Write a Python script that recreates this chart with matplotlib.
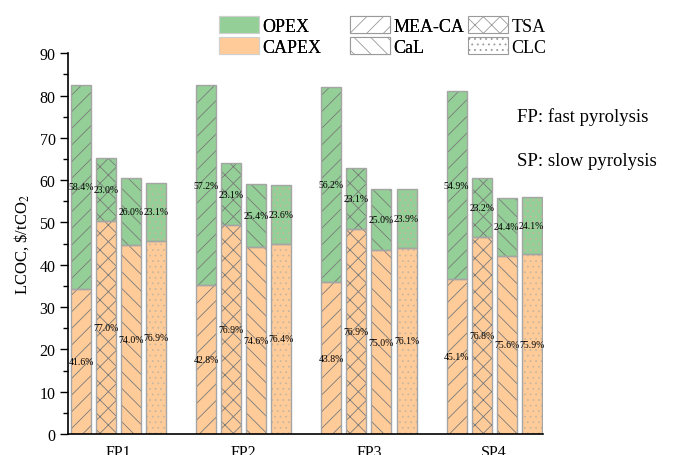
import matplotlib.pyplot as plt
import numpy as np
from matplotlib.patches import Patch
from matplotlib.ticker import MultipleLocator

plt.rcParams['font.family'] = ['Liberation Serif', 'DejaVu Serif']
plt.rcParams['mathtext.fontset'] = 'stix'
plt.rcParams['hatch.linewidth'] = 0.6

# LCOC totals ($/tCO2) and CAPEX share (%) for each case / technology
groups = ['FP1', 'FP2', 'FP3', 'SP4']
techs = ['MEA-CA', 'TSA', 'CaL', 'CLC']
total = {
    'MEA-CA': [82.6, 82.4, 82.0, 81.0],
    'TSA':    [65.3, 64.1, 62.9, 60.6],
    'CaL':    [60.5, 59.2, 58.0, 55.8],
    'CLC':    [59.4, 58.8, 57.9, 56.0],
}
capex_pct = {
    'MEA-CA': [41.6, 42.8, 43.8, 45.1],
    'TSA':    [77.0, 76.9, 76.9, 76.8],
    'CaL':    [74.0, 74.6, 75.0, 75.6],
    'CLC':    [76.9, 76.4, 76.1, 75.9],
}
hatches = {'MEA-CA': '//', 'TSA': 'xx', 'CaL': '\\\\', 'CLC': '...'}
hatch_col = {'MEA-CA': '#7A7A7A', 'TSA': '#7A7A7A', 'CaL': '#7A7A7A', 'CLC': '#C8B8A0'}

c_opex = '#93CF96'
c_capex = '#FFCC99'
edge = '#A5A5A5'

fig = plt.figure(figsize=(6.74, 4.56), dpi=100)
ax = fig.add_axes([0.1009, 0.046, 0.7047, 0.835])

x = np.arange(len(groups))
w = 0.16
step = 0.2
for i, t in enumerate(techs):
    tot = np.array(total[t])
    cp = np.array(capex_pct[t])
    capex = tot * cp / 100
    opex = tot - capex
    pos = x + (i - 1.5) * step
    # filled + hatched parts, then a light outline on top
    b1 = ax.bar(pos, capex, w, color=c_capex, edgecolor=hatch_col[t], hatch=hatches[t], lw=0)
    b2 = ax.bar(pos, opex, w, bottom=capex, color=c_opex, edgecolor=hatch_col[t], hatch=hatches[t], lw=0)
    ax.bar(pos, capex, w, fill=False, edgecolor=edge, lw=1)
    ax.bar(pos, opex, w, bottom=capex, fill=False, edgecolor=edge, lw=1)
    ax.bar_label(b1, labels=[f'{p:.1f}%' for p in cp], label_type='center', fontsize=7)
    ax.bar_label(b2, labels=[f'{100 - p:.1f}%' for p in cp], label_type='center', fontsize=7)

ax.set_xlim(-0.404, 3.39)
ax.set_ylim(0, 90)
ax.set_xticks(x)
ax.set_xticklabels(groups)
ax.yaxis.set_major_locator(MultipleLocator(10))
ax.yaxis.set_minor_locator(MultipleLocator(5))
ax.tick_params(axis='x', length=0, pad=7, labelsize=11.5)
ax.tick_params(axis='y', which='major', length=6, width=1, pad=3, labelsize=11.5, direction='out')
ax.tick_params(axis='y', which='minor', length=3.5, width=1, direction='out')
ax.spines['top'].set_visible(False)
ax.spines['right'].set_visible(False)
ax.spines['left'].set_linewidth(1.2)
ax.spines['bottom'].set_linewidth(1.2)
ax.set_ylabel('LCOC, \\$/tCO$_2$', fontsize=12, labelpad=6)

# legend
h_cost = [Patch(facecolor=c_opex, edgecolor='#D0D0D0', lw=0.8, label='OPEX'),
          Patch(facecolor=c_capex, edgecolor='#D0D0D0', lw=0.8, label='CAPEX')]
h_tech = [Patch(facecolor='white', edgecolor='#9A9A9A', lw=0.8, hatch=hatches[t], label=t) for t in techs]
leg1 = fig.legend(handles=h_cost + [h_tech[0], h_tech[2]], ncol=2, frameon=False,
                  loc='upper left', bbox_to_anchor=(219 / 674, 1 - 17 / 456),
                  fontsize=13, borderpad=0, borderaxespad=0,
                  handlelength=2.2, handleheight=1.1, handletextpad=0.2,
                  labelspacing=0.12, columnspacing=1.6)
fig.legend(handles=[h_tech[1], h_tech[3]], ncol=1, frameon=False,
           loc='upper left', bbox_to_anchor=(468 / 674, 1 - 17 / 456),
           fontsize=13, borderpad=0, borderaxespad=0,
           handlelength=2.2, handleheight=1.1, handletextpad=0.2,
           labelspacing=0.12)
fig.add_artist(leg1)

fig.text(517 / 674, 1 - 117 / 456, 'FP: fast pyrolysis', fontsize=13.5, va='center')
fig.text(517 / 674, 1 - 162 / 456, 'SP: slow pyrolysis', fontsize=13.5, va='center')

fig.savefig('out.png', dpi=100)
